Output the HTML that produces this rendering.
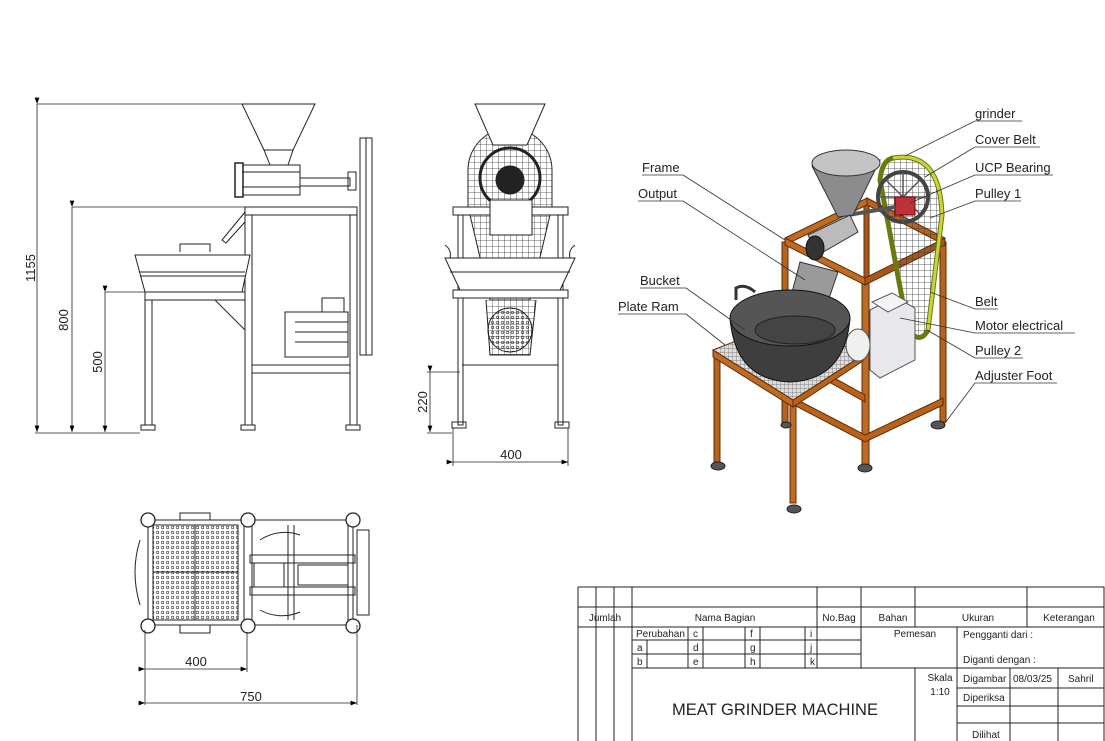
<!DOCTYPE html>
<html><head><meta charset="utf-8"><style>
html,body{margin:0;padding:0;background:#fff;}
svg{display:block;}
text{font-family:"Liberation Sans","DejaVu Sans",sans-serif;}
</style></head><body>
<svg width="1105" height="741" viewBox="0 0 1105 741" xmlns="http://www.w3.org/2000/svg">
<defs>
<pattern id="grid" width="6" height="6" patternUnits="userSpaceOnUse"><path d="M0 0H6M0 0V6" stroke="#333" stroke-width="0.8" fill="none"/></pattern>
<pattern id="perf" width="5" height="5" patternUnits="userSpaceOnUse"><circle cx="2.5" cy="2.5" r="1.3" fill="none" stroke="#333" stroke-width="0.6"/></pattern>
<pattern id="mesh" width="4" height="4" patternUnits="userSpaceOnUse"><rect width="4" height="4" fill="#ddd"/><path d="M0 0H4M0 0V4" stroke="#666" stroke-width="0.7"/></pattern>
<marker id="ar" markerWidth="8" markerHeight="6" refX="8" refY="3" orient="auto"><path d="M0 0L8 3L0 6z" fill="#000"/></marker>
</defs>
<g fill="none" stroke="#222" stroke-width="1">
<polygon points="242,104 315,104 293,150 264,150" fill="#fff"/>
<path d="M264,150 L293,150 L288,165 L270,165 Z" fill="#fff"/>
<rect x="240" y="165" width="60" height="30" fill="#fff"/>
<rect x="235" y="163" width="8" height="34" fill="#fff" stroke-width="1.5"/>
<line x1="242" y1="172" x2="300" y2="172"/><line x1="242" y1="187" x2="300" y2="187"/>
<rect x="300" y="178" width="50" height="8"/>
<rect x="348" y="172" width="8" height="18"/>
<rect x="360" y="138" width="12" height="217"/>
<line x1="366" y1="138" x2="366" y2="355"/>
<rect x="245" y="207" width="112" height="8" fill="#fff"/>
<rect x="245" y="215" width="7" height="210"/>
<rect x="350" y="215" width="7" height="210"/>
<rect x="252" y="365" width="98" height="8"/>
<path d="M245,212 L222,240 L226,243 L245,222"/>
<path d="M180,252 L180,244 L210,244 L210,252"/>
<polygon points="135,255 250,255 242,292 145,292" fill="#fff"/>
<line x1="140" y1="272" x2="245" y2="272"/><line x1="141" y1="276" x2="245" y2="276"/>
<rect x="145" y="292" width="100" height="8"/>
<rect x="145" y="300" width="7" height="125"/>
<path d="M215,300 L245,330"/>
<rect x="285" y="312" width="63" height="45"/>
<rect x="322" y="298" width="22" height="14"/>
<line x1="295" y1="322" x2="348" y2="322"/><line x1="295" y1="332" x2="348" y2="332"/><line x1="295" y1="342" x2="348" y2="342"/>
<rect x="141" y="425" width="14" height="5"/><rect x="241" y="425" width="14" height="5"/><rect x="346" y="425" width="14" height="5"/>
<g stroke-width="0.8">
<line x1="37" y1="104" x2="242" y2="104"/><line x1="37" y1="104" x2="37" y2="432" marker-start="url(#ar)" marker-end="url(#ar)"/>
<line x1="72" y1="207" x2="245" y2="207"/><line x1="72" y1="207" x2="72" y2="432" marker-start="url(#ar)" marker-end="url(#ar)"/>
<line x1="105" y1="292" x2="145" y2="292"/><line x1="105" y1="292" x2="105" y2="432" marker-start="url(#ar)" marker-end="url(#ar)"/>
<line x1="35" y1="433" x2="140" y2="433"/>
</g>
<path d="M468,215 L468,170 A42,42 0 0 1 552,170 L552,215" fill="url(#grid)"/>
<polygon points="475,104 545,104 527,145 493,145" fill="#fff"/>
<circle cx="510" cy="178" r="30" stroke-width="3"/>
<circle cx="510" cy="180" r="14" fill="#222"/>
<rect x="453" y="207" width="115" height="8" fill="#fff"/>
<rect x="458" y="215" width="5" height="210"/><rect x="558" y="215" width="5" height="210"/>
<path d="M470,215 L490,300 L530,300 L550,215" fill="url(#grid)"/>
<path d="M486,300 L490,355 L530,355 L536,300" fill="url(#grid)"/>
<rect x="490" y="200" width="42" height="35" fill="#fff"/>
<polygon points="445,258 575,258 560,290 460,290" fill="#fff"/>
<line x1="450" y1="272" x2="570" y2="272"/>
<path d="M445,245 Q452,250 450,258 M575,245 Q568,250 570,258"/>
<rect x="453" y="290" width="115" height="8" fill="#fff"/>
<circle cx="510" cy="330" r="22" fill="url(#perf)"/>
<line x1="462" y1="365" x2="558" y2="365"/>
<rect x="452" y="422" width="14" height="6"/><rect x="555" y="422" width="14" height="6"/>
<g stroke-width="0.8">
<line x1="427" y1="372" x2="460" y2="372"/><line x1="430" y1="372" x2="430" y2="432" marker-start="url(#ar)" marker-end="url(#ar)"/><line x1="427" y1="433" x2="452" y2="433"/>
<line x1="453" y1="428" x2="453" y2="466"/><line x1="568" y1="428" x2="568" y2="466"/>
<line x1="453" y1="462" x2="568" y2="462" marker-start="url(#ar)" marker-end="url(#ar)"/>
</g>
<path d="M140,540 Q130,572 140,605"/>
<path d="M180,520 L180,513 L210,513 L210,520 M180,625 L180,633 L210,633 L210,625"/>
<rect x="148" y="520" width="205" height="105" fill="#fff"/>
<rect x="153" y="525" width="85" height="95" fill="url(#perf)"/>
<line x1="153" y1="572" x2="238" y2="572"/><line x1="195" y1="525" x2="195" y2="620"/>
<line x1="244" y1="520" x2="244" y2="625"/><line x1="252" y1="520" x2="252" y2="625"/>
<line x1="348" y1="520" x2="348" y2="625"/>
<line x1="288" y1="525" x2="288" y2="620"/><line x1="294" y1="525" x2="294" y2="620"/>
<rect x="250" y="555" width="105" height="8"/><rect x="250" y="587" width="105" height="8"/>
<rect x="254" y="563" width="30" height="24"/><rect x="298" y="565" width="50" height="20"/>
<path d="M260,540 A45,45 0 0 1 300,535 M260,610 A45,45 0 0 0 300,612"/>
<rect x="357" y="530" width="12" height="85"/>
<g fill="#fff" stroke-width="1.3">
<circle cx="148" cy="520" r="7"/><circle cx="248" cy="520" r="7"/><circle cx="353" cy="520" r="7"/>
<circle cx="148" cy="626" r="7"/><circle cx="248" cy="626" r="7"/><circle cx="353" cy="626" r="7"/>
</g>
<g stroke-width="0.8">
<line x1="145" y1="630" x2="145" y2="705"/><line x1="247" y1="632" x2="247" y2="672"/><line x1="357" y1="625" x2="357" y2="705"/>
<line x1="145" y1="669" x2="247" y2="669" marker-start="url(#ar)" marker-end="url(#ar)"/>
<line x1="145" y1="703" x2="357" y2="703" marker-start="url(#ar)" marker-end="url(#ar)"/>
</g>
</g>
<g font-size="13" fill="#222">
<text transform="translate(35,268) rotate(-90)" text-anchor="middle">1155</text>
<text transform="translate(68,320) rotate(-90)" text-anchor="middle">800</text>
<text transform="translate(102,362) rotate(-90)" text-anchor="middle">500</text>
<text transform="translate(427,402) rotate(-90)" text-anchor="middle">220</text>
<text x="511" y="459" text-anchor="middle">400</text>
<text x="196" y="666" text-anchor="middle">400</text>
<text x="251" y="701" text-anchor="middle">750</text>
</g>

<g stroke="#5a2e08" stroke-width="1">
<rect x="714" y="357" width="6" height="105" fill="#b8621c"/>
<rect x="790" y="403" width="6" height="100" fill="#c06a22"/>
<rect x="783" y="380" width="5" height="42" fill="#a9561a"/>
<rect x="864" y="205" width="5" height="200" fill="#a9561a"/>
<rect x="782" y="242" width="6" height="180" fill="#b8621c"/>
<rect x="940" y="242" width="6" height="180" fill="#b8621c"/>
<rect x="862" y="280" width="7" height="187" fill="#c06a22"/>
<polygon points="785,238 867,198 867,205 785,245" fill="#c06a22"/>
<polygon points="867,198 945,238 945,245 867,205" fill="#b8621c"/>
<polygon points="785,238 865,278 865,285 785,245" fill="#c06a22"/>
<polygon points="865,278 945,238 945,245 865,285" fill="#a9561a"/>
<polygon points="788,395 865,435 943,398 943,405 865,442 788,402" fill="#b8621c"/>
<polygon points="820,370 865,395 865,402 820,377" fill="#b8621c"/>
<polygon points="713,350 790,320 863,355 793,400" fill="url(#mesh)"/>
<polygon points="713,350 793,400 793,407 713,357" fill="#c06a22"/>
<polygon points="793,400 863,355 863,361 793,407" fill="#b8621c"/>
</g>
<path d="M893,158 Q940,150 942,215 L928,330 Q920,345 908,330 L880,180 Q882,160 893,158 Z" fill="url(#grid)" stroke="#6b7a10" stroke-width="5"/>
<path d="M893,158 Q940,150 942,215 L928,330" fill="none" stroke="#c8d43a" stroke-width="3"/>
<circle cx="903" cy="197" r="25" fill="none" stroke="#444" stroke-width="4"/>
<path d="M903,172 V222 M878,197 H928 M886,180 L920,214 M920,180 L886,214" stroke="#555" stroke-width="1.5"/>
<rect x="895" y="197" width="20" height="18" fill="#c0303a" stroke="#700"/>
<polygon points="870,310 895,297 915,308 915,360 880,378 870,370" fill="#e8e8ec" stroke="#555"/>
<polygon points="872,302 892,293 908,302 888,312" fill="#f4f4f6" stroke="#555"/>
<ellipse cx="858" cy="345" rx="12" ry="16" fill="#f0f0f0" stroke="#555"/>
<line x1="848" y1="215" x2="895" y2="207" stroke="#555" stroke-width="4"/>
<polygon points="812,166 880,160 853,215 838,217" fill="#8c8c8c" stroke="#333"/>
<ellipse cx="846" cy="163" rx="34" ry="13" fill="#c4c4c4" stroke="#333"/>
<polygon points="808,235 850,215 858,232 818,255" fill="#bbb" stroke="#333"/>
<ellipse cx="815" cy="248" rx="9" ry="12" fill="#333" stroke="#111"/>
<polygon points="800,262 838,272 825,310 790,300" fill="#9a9a9a" stroke="#333"/>
<path d="M736,300 L736,288 Q745,283 755,292" fill="none" stroke="#333" stroke-width="3"/>
<path d="M730,318 Q735,380 790,382 Q845,380 850,318 Z" fill="#3e3e3e" stroke="#111"/>
<ellipse cx="790" cy="318" rx="60" ry="28" fill="#555" stroke="#111"/>
<ellipse cx="795" cy="330" rx="40" ry="14" fill="#444" stroke="#222"/>
<g fill="#555" stroke="#222">
<ellipse cx="718" cy="466" rx="7" ry="4"/><ellipse cx="794" cy="509" rx="7" ry="4"/><ellipse cx="865" cy="468" rx="7" ry="4"/><ellipse cx="938" cy="425" rx="7" ry="4"/><ellipse cx="786" cy="425" rx="5" ry="3"/>
</g>
<g stroke="#333" stroke-width="0.8" fill="none">
<path d="M975,121 H1022 M975,121 L905,156"/>
<path d="M975,147 H1040 M975,147 L925,177"/>
<path d="M975,175 H1053 M975,175 L910,203"/>
<path d="M975,201 H1021 M975,201 L930,218"/>
<path d="M975,309 H998 M975,309 L930,292"/>
<path d="M975,333 H1075 M975,333 L900,318"/>
<path d="M975,358 H1023 M975,358 L927,330"/>
<path d="M975,383 H1057 M975,383 L945,423"/>
<path d="M642,175 H683 M683,175 L785,240"/>
<path d="M638,201 H683 M683,201 L805,280"/>
<path d="M640,288 H686 M686,288 L745,330"/>
<path d="M618,314 H686 M686,314 L725,345"/>
</g>
<g font-size="13" fill="#222" font-family="'DejaVu Sans',sans-serif">
<text x="975" y="118">grinder</text>
<text x="975" y="144">Cover Belt</text>
<text x="975" y="172">UCP Bearing</text>
<text x="975" y="198">Pulley 1</text>
<text x="975" y="306">Belt</text>
<text x="975" y="330">Motor electrical</text>
<text x="975" y="355">Pulley 2</text>
<text x="975" y="380">Adjuster Foot</text>
<text x="642" y="172">Frame</text>
<text x="638" y="198">Output</text>
<text x="640" y="285">Bucket</text>
<text x="618" y="311">Plate Ram</text>
</g>

<g stroke="#222" stroke-width="1" fill="none">
<path d="M578,587 H1104 V741"/>
<path d="M578,587 V741"/>
<path d="M578,607 H1104"/><path d="M578,627 H1104"/>
<path d="M632,640 H861 M632,654 H861 M632,668 H957"/>
<path d="M957,668 H1104 M957,688 H1104 M957,706 H1104 M957,723 H1104"/>
<path d="M596,587 V741 M614,587 V741 M632,587 V741"/>
<path d="M817,587 V668 M861,587 V668 M915,587 V627 M1027,587 V627"/>
<path d="M957,627 V741 M915,668 V741"/>
<path d="M1010,668 V741 M1058,668 V741"/>
<path d="M688,627 V668 M703,627 V668 M745,627 V668 M760,627 V668 M805,627 V668 M647,640 V668"/>
</g>
<g font-size="10" fill="#222">
<text x="605" y="621" text-anchor="middle">Jumlah</text>
<text x="725" y="621" text-anchor="middle">Nama Bagian</text>
<text x="839" y="621" text-anchor="middle">No.Bag</text>
<text x="893" y="621" text-anchor="middle">Bahan</text>
<text x="978" y="621" text-anchor="middle">Ukuran</text>
<text x="1069" y="621" text-anchor="middle">Keterangan</text>
<text x="636" y="637">Perubahan</text>
<text x="693" y="637">c</text><text x="750" y="637">f</text><text x="810" y="637">i</text>
<text x="637" y="651">a</text><text x="693" y="651">d</text><text x="750" y="651">g</text><text x="810" y="651">j</text>
<text x="637" y="665">b</text><text x="693" y="665">e</text><text x="750" y="665">h</text><text x="810" y="665">k</text>
<text x="915" y="637" text-anchor="middle">Pemesan</text>
<text x="963" y="638">Pengganti dari :</text>
<text x="963" y="663">Diganti dengan :</text>
<text x="940" y="681" text-anchor="middle">Skala</text>
<text x="940" y="695" text-anchor="middle">1:10</text>
<text x="963" y="682">Digambar</text>
<text x="1013" y="682">08/03/25</text>
<text x="1068" y="682">Sahril</text>
<text x="963" y="701">Diperiksa</text>
<text x="972" y="738">Dilihat</text>
<text x="672" y="715" font-size="17" textLength="206" lengthAdjust="spacingAndGlyphs">MEAT GRINDER MACHINE</text>
</g>
</svg>
</body></html>
